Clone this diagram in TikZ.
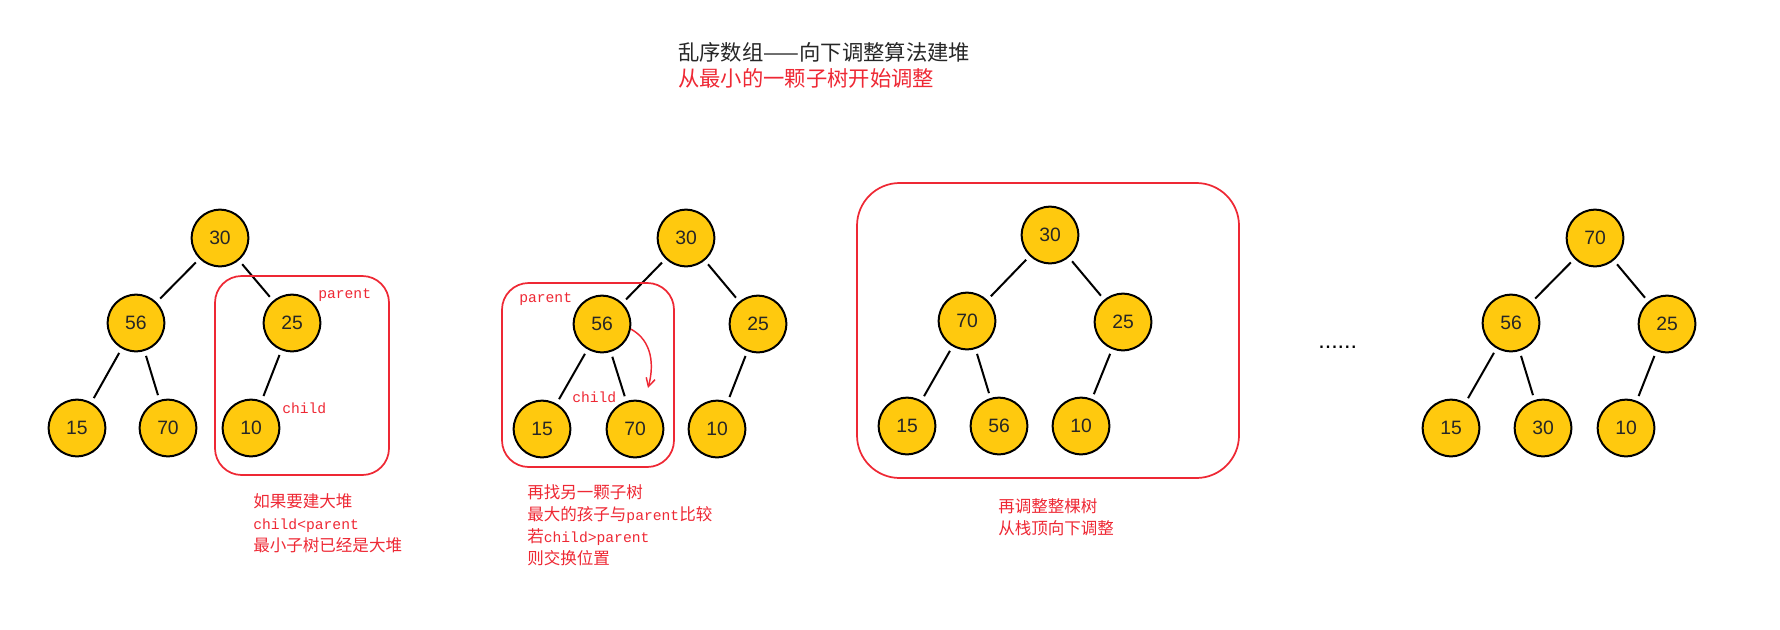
\documentclass[tikz,border=0pt]{standalone}
\usepackage{fontspec}
\setmainfont{Liberation Sans}
\setmonofont{Liberation Mono}
\newfontfamily\cjk{Noto Sans CJK SC}
\usetikzlibrary{arrows.meta}
\definecolor{heapgold}{RGB}{255,201,14}
\definecolor{markred}{RGB}{238,40,52}
\newcommand{\en}[1]{{\ttfamily\fontsize{11pt}{12pt}\selectfont #1}}

\begin{document}
\begin{tikzpicture}[x=0.75pt,y=-0.75pt,heap/.style={circle,draw=black,line width=1.5pt,fill=heapgold,minimum size=42.5pt,inner sep=0pt,text=black!85,font=\fontsize{14.5pt}{16pt}\selectfont},link/.style={line width=1.5pt,shorten <=3.75pt,shorten >=3.75pt},redbox/.style={draw=markred,line width=1.3pt},note/.style={anchor=north west,inner sep=0pt,align=left,text=markred,font=\cjk\fontsize{12.4pt}{16.5pt}\selectfont},tag/.style={anchor=west,inner sep=0pt,text=markred,font=\ttfamily\fontsize{11pt}{12pt}\selectfont},swap/.style={draw=markred,line width=1.1pt,-{Straight Barb[length=2.2mm,width=2.4mm]}}]
\useasboundingbox (0,0) rectangle (1780,629);
% title
\node[anchor=west, inner sep=0pt, text=black!85, font=\cjk\fontsize{16pt}{19pt}\selectfont] (title) at (678,52) {乱序数组——向下调整算法建堆};
\node[anchor=west, inner sep=0pt, text=markred, font=\cjk\fontsize{16pt}{19pt}\selectfont] (subtitle) at (678,78) {从最小的一颗子树开始调整};
% tree 1
\node[heap] (a30) at (220,238) {30};
\node[heap] (a56) at (136,323) {56};
\node[heap] (a25) at (292,323) {25};
\node[heap] (a15) at (77,428) {15};
\node[heap] (a70) at (168,428) {70};
\node[heap] (a10) at (251,428) {10};
\draw[link] (a30) -- (a56);
\draw[link] (a30) -- (a25);
\draw[link] (a56) -- (a15);
\draw[link] (a56) -- (a70);
\draw[link] (a25) -- (a10);
\draw[redbox, rounded corners=20pt] (215,276) rectangle (389,475);
\node[tag] (aparent) at (318,295) {parent};
\node[tag] (achild) at (282,408) {child};
\node[note] (anote) at (253,493) {如果要建大堆\\\en{child<parent}\\最小子树已经是大堆};
% tree 2
\node[heap] (b30) at (686,238) {30};
\node[heap] (b56) at (602,324) {56};
\node[heap] (b25) at (758,324) {25};
\node[heap] (b15) at (542,429) {15};
\node[heap] (b70) at (635,429) {70};
\node[heap] (b10) at (717,429) {10};
\draw[link] (b30) -- (b56);
\draw[link] (b30) -- (b25);
\draw[link] (b56) -- (b15);
\draw[link] (b56) -- (b70);
\draw[link] (b25) -- (b10);
\draw[redbox, rounded corners=20pt] (502,283) rectangle (674,467);
\node[tag] (bparent) at (519,299) {parent};
\node[tag] (bchild) at (572,397) {child};
\coordinate (swapend) at (648,388);
\draw[swap] (b56.-10) .. controls +(22,12) and +(6,-22) .. (swapend);
\node[note] (bnote) at (527,484) {再找另一颗子树\\最大的孩子与\en{parent}比较\\若\en{child>parent}\\则交换位置};
% tree 3
\node[heap] (c30) at (1050,235) {30};
\node[heap] (c70) at (967,321) {70};
\node[heap] (c25) at (1123,322) {25};
\node[heap] (c15) at (907,426) {15};
\node[heap] (c56) at (999,426) {56};
\node[heap] (c10) at (1081,426) {10};
\draw[link] (c30) -- (c70);
\draw[link] (c30) -- (c25);
\draw[link] (c70) -- (c15);
\draw[link] (c70) -- (c56);
\draw[link] (c25) -- (c10);
\draw[redbox, rounded corners=32pt] (857,183) rectangle (1239,478);
\node[note] (cnote) at (998,498) {再调整整棵树\\从栈顶向下调整};
% dots
\node[anchor=west, inner sep=0pt, font=\fontsize{17.5pt}{18pt}\selectfont] (dots) at (1318,347) {......};
% tree 4
\node[heap] (d70) at (1595,238) {70};
\node[heap] (d56) at (1511,323) {56};
\node[heap] (d25) at (1667,324) {25};
\node[heap] (d15) at (1451,428) {15};
\node[heap] (d30) at (1543,428) {30};
\node[heap] (d10) at (1626,428) {10};
\draw[link] (d70) -- (d56);
\draw[link] (d70) -- (d25);
\draw[link] (d56) -- (d15);
\draw[link] (d56) -- (d30);
\draw[link] (d25) -- (d10);
\end{tikzpicture}
\end{document}
